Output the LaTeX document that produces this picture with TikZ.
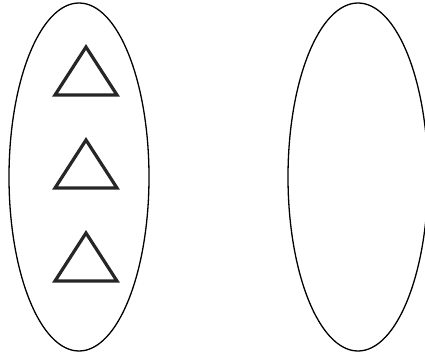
\documentclass[tikz,border=0pt]{standalone}
\usetikzlibrary{positioning}

\tikzset{
  setline/.style={black,line width=1.3pt},
  tri/.style={draw=black!85,line width=3.2pt,line join=miter}
}

\begin{document}
\begin{tikzpicture}[x=1pt,y=1pt]
    \useasboundingbox (0,0) rectangle (425,354);
    \clip (0,0) rectangle (425,354);

    \coordinate (L) at (79,177);
    \coordinate (R) at (358,177);

    \draw[setline] (L) ellipse[x radius=70,y radius=174];
    \draw[setline] (R) ellipse[x radius=70,y radius=174];

    % triangles in the left set
    \foreach \ty in {307,214,121} {
        \draw[tri] (86,\ty) -- (117,\ty-48) -- (55,\ty-48) -- cycle;
    }
\end{tikzpicture}
\end{document}
